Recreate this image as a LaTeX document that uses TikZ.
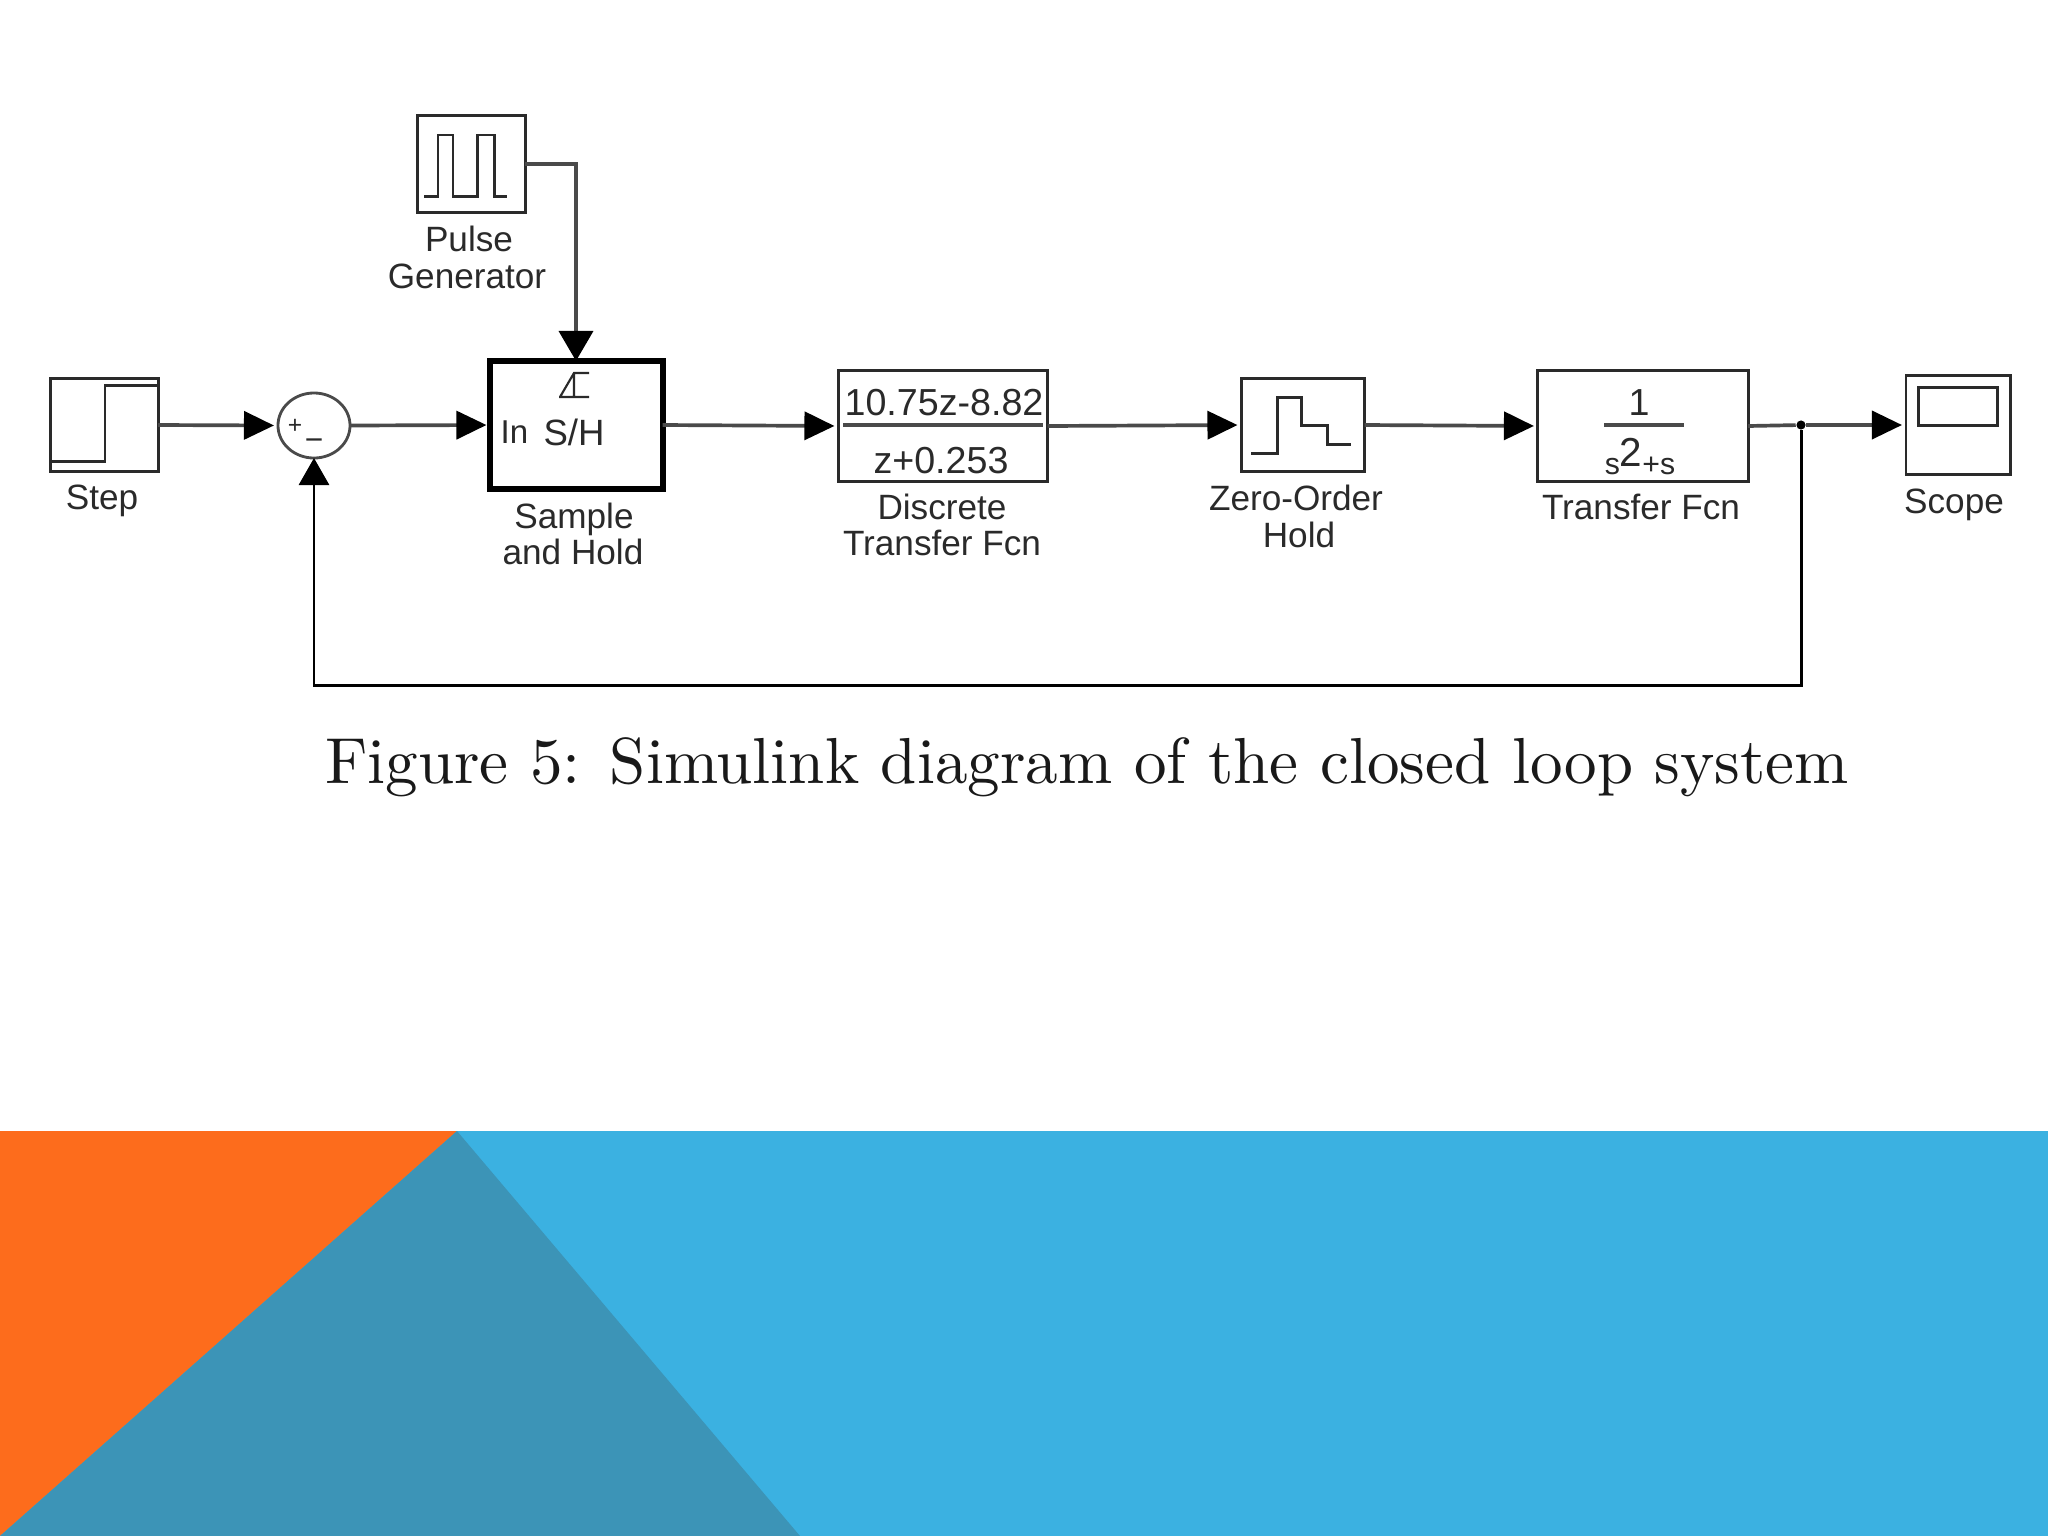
\documentclass[tikz,border=0pt]{standalone}
\usepackage{fontspec}
\setsansfont{Liberation Sans}
\newfontfamily\capfont{lmroman10-regular.otf}
\usetikzlibrary{arrows.meta,shapes.geometric}
\definecolor{bandblue}{HTML}{3BB1E1}
\definecolor{bandorange}{HTML}{FD6C1C}
\definecolor{bandteal}{HTML}{3C94B7}
\definecolor{inkdark}{HTML}{2A2A2A}
\definecolor{inkwire}{HTML}{4A4A4A}
\tikzset{
  blockbox/.style={draw=inkdark,line width=0.85pt,fill=white,inner sep=0pt,outer sep=0pt},
  heavybox/.style={draw=black,line width=1.7pt,fill=white,inner sep=0pt,outer sep=0pt},
  sumring/.style={ellipse,draw=inkwire,line width=0.8pt,fill=white,inner sep=0pt,outer sep=0pt,minimum width=72*0.2845pt,minimum height=65*0.2845pt},
  blocklabel/.style={font=\sffamily\fontsize{10}{10}\selectfont,text=inkdark,inner sep=0pt,align=center},
  blocktext/.style={font=\sffamily\fontsize{10.7}{10.7}\selectfont,text=inkdark,inner sep=0pt},
  wire/.style={draw=inkwire,line width=1.05pt,-{Triangle[length=30*0.2845pt,width=28*0.2845pt,fill=black,color=black]},shorten >=4*0.2845pt},
  wirebare/.style={draw=inkwire,line width=1.05pt},
  feedback/.style={draw=black,line width=0.85pt,-{Triangle[length=27*0.2845pt,width=30*0.2845pt,fill=black,color=black]}},
  glyph/.style={draw=inkdark,line width=0.85pt},
  dotjoin/.style={circle,fill=black,inner sep=0pt,minimum size=2.6pt}
}
\begin{document}
\begin{tikzpicture}[x=0.01cm,y=-0.01cm]
\useasboundingbox (0,0) rectangle (2048,1536);
% background band
\fill[bandblue] (0,1131) rectangle (2048,1536);
\fill[bandorange] (0,1131) -- (457,1131) -- (0,1536) -- cycle;
\fill[bandteal] (457,1131) -- (800,1536) -- (0,1536) -- cycle;
% blocks
\node[blockbox,minimum width=107*0.2845pt,minimum height=92*0.2845pt] (step) at (104.5,425) {};
\node[sumring] (sum) at (314,425.5) {};
\node[blockbox,minimum width=107*0.2845pt,minimum height=96*0.2845pt] (pulse) at (471.5,164) {};
\node[heavybox,minimum width=172*0.2845pt,minimum height=128*0.2845pt] (sh) at (576.5,425) {};
\node[blockbox,minimum width=209*0.2845pt,minimum height=110*0.2845pt] (dtf) at (943,426) {};
\node[blockbox,minimum width=123*0.2845pt,minimum height=92*0.2845pt] (zoh) at (1303,425) {};
\node[blockbox,minimum width=210*0.2845pt,minimum height=110*0.2845pt] (tf) at (1643,426) {};
\node[blockbox,minimum width=104*0.2845pt,minimum height=98*0.2845pt] (scope) at (1958,425) {};
\node[dotjoin] (tap) at (1801,425) {};
\coordinate (pulsecorner) at (576,164);
\coordinate (fbright) at (1801,685);
\coordinate (fbleft) at (314,685);
% connectors
\draw[wire] (step.east) -- (sum.west);
\draw[wire] (sum.east) -- (sh.west);
\draw[wire] (sh.east) -- (dtf.west);
\draw[wire] (dtf.east) -- (zoh.west);
\draw[wire] (zoh.east) -- (tf.west);
\draw[wirebare] (tf.east) -- (tap);
\draw[wire] (tap) -- (scope.west);
\draw[wire,shorten >=0pt,-{Triangle[length=30*0.2845pt,width=34*0.2845pt,fill=black,color=black]}] (pulse.east |- pulsecorner) -- (pulsecorner) -- (sh.north -| pulsecorner);
\draw[feedback] (tap) -- (fbright) -- (fbleft) -- (sum.south);
% block glyphs
\draw[glyph] (50,461) -- (105,461) -- (105,385) -- (159,385);
\draw[glyph] (424,196) -- (438,196) -- (438,135) -- (453,135) -- (453,196) -- (477,196) -- (477,135) -- (494,135) -- (494,196) -- (507,196);
\draw[glyph] (1251,453) -- (1277,453) -- (1277,397) -- (1301,397) -- (1301,425) -- (1327,425) -- (1327,444) -- (1351,444);
\draw[glyph] (1918,387) rectangle (1997,425);
\draw[wirebare] (843,425) -- (1043,425);
\draw[wirebare] (1604,425) -- (1684,425);
\draw[draw=inkdark,line width=0.6pt] (559,397) -- (589,397) (560,397) -- (574,373) -- (589,373) (574,373) -- (574,397);
% block texts
\node[blocktext] (sumplus) at (295,426) {\fontsize{7}{7}\selectfont +};
\node[blocktext] (summinus) at (314,445) {\fontsize{9}{9}\selectfont \textminus};
\node[blocktext,anchor=west] (shin) at (500,432) {\fontsize{9.4}{10}\selectfont In};
\node[blocktext] (shname) at (574,432) {\fontsize{10.4}{11}\selectfont S/H};
\node[blocktext] (dtfnum) at (944,403) {10.75z-8.82};
\node[blocktext] (dtfden) at (941,461) {z+0.253};
\node[blocktext] (tfnum) at (1639,403) {1};
\node[blocktext,anchor=base] (tfden) at (1640,474) {\fontsize{8.6}{9}\selectfont s\raisebox{2pt}{\fontsize{11.5}{12}\selectfont 2}+s};
% labels
\node[blocklabel] (lstep) at (102,501) {Step};
\node[blocklabel,anchor=base] (lpulse1) at (469,251) {Pulse};
\node[blocklabel,anchor=base] (lpulse2) at (467,288) {Generator};
\node[blocklabel,anchor=base] (lsh1) at (574,528) {Sample};
\node[blocklabel,anchor=base] (lsh2) at (573,564) {and Hold};
\node[blocklabel,anchor=base] (ldtf1) at (942,519) {Discrete};
\node[blocklabel,anchor=base] (ldtf2) at (942,555) {Transfer Fcn};
\node[blocklabel,anchor=base] (lzoh1) at (1296,510) {Zero-Order};
\node[blocklabel,anchor=base] (lzoh2) at (1299,547) {Hold};
\node[blocklabel,anchor=base] (ltf) at (1641,519) {Transfer Fcn};
\node[blocklabel,anchor=base] (lscope) at (1954,513) {Scope};
% caption
\node[inner sep=0pt,text=black!90] (caption) at (1087,767) {\capfont\fontsize{18.5}{22}\selectfont Figure 5: Simulink diagram of the closed loop system};
\end{tikzpicture}
\end{document}
